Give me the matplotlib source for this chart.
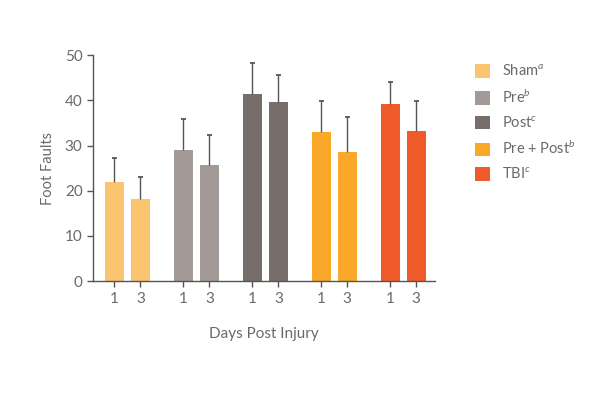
import numpy as np
import matplotlib.pyplot as plt
from matplotlib.patches import Patch

plt.rcParams['font.family'] = ['Lato', 'DejaVu Sans']
plt.rcParams['mathtext.fontset'] = 'custom'
plt.rcParams['mathtext.it'] = 'Lato:italic'
plt.rcParams['mathtext.rm'] = 'Lato'

# 数据
groups = ['Sham$^{a}$', 'Pre$^{b}$', 'Post$^{c}$', 'Pre + Post$^{b}$', 'TBI$^{c}$']
days = ['1', '3']
means_day1 = [21.9, 29.0, 41.5, 33.0, 39.3]
means_day3 = [18.1, 25.7, 39.6, 28.5, 33.3]
err_day1 = [5.3, 6.8, 6.7, 6.8, 4.7]
err_day3 = [4.9, 6.6, 6.0, 7.8, 6.5]
colors = ['#FBC46F', '#A39A97', '#776D6A', '#F9A82A', '#EF5A2B']

text_color = '#6a6a6a'
axis_color = '#555555'

fig = plt.figure(figsize=(5.98, 3.97), dpi=100)
ax = fig.add_axes([0.1555, 0.292, 0.5715, 0.569])

group_step = 2.654
width = 0.73
cap = 0.1
xticks, xlabels = [], []
for i, (m1, m3, e1, e3, c) in enumerate(zip(means_day1, means_day3, err_day1, err_day3, colors)):
    xs = np.array([i * group_step, i * group_step + 1])
    ms = np.array([m1, m3])
    es = np.array([e1, e3])
    ax.bar(xs, ms, width=width, color=c, zorder=2)
    # 只画上方误差线
    ax.vlines(xs, ms, ms + es, color=axis_color, linewidth=1, zorder=3)
    ax.hlines(ms + es, xs - cap, xs + cap, color=axis_color, linewidth=1.3, zorder=3)
    xticks += list(xs)
    xlabels += days

ax.set_xlim(-0.827, 12.33)
ax.set_ylim(0, 50)
ax.set_yticks(range(0, 51, 10))
ax.set_xticks(xticks)
ax.set_xticklabels(xlabels)

for s in ['top', 'right']:
    ax.spines[s].set_visible(False)
for s in ['left', 'bottom']:
    ax.spines[s].set_color(axis_color)
    ax.spines[s].set_linewidth(1)
ax.tick_params(axis='both', colors=axis_color, labelcolor=text_color,
               labelsize=11, length=4, width=1)
ax.tick_params(axis='x', pad=4)

ax.set_ylabel('Foot Faults', color=text_color, fontsize=10.5, labelpad=7)
ax.set_xlabel('Days Post Injury', color=text_color, fontsize=11, labelpad=15)

handles = [Patch(facecolor=c, edgecolor='none', label=g) for g, c in zip(groups, colors)]
fig.legend(handles=handles, loc='upper left', bbox_to_anchor=(0.772, 0.872),
           frameon=False, fontsize=10.5, handlelength=1.05, handleheight=1.05,
           labelspacing=0.65, handletextpad=0.85, labelcolor=text_color)

plt.savefig('out.png', dpi=100, facecolor='white')
